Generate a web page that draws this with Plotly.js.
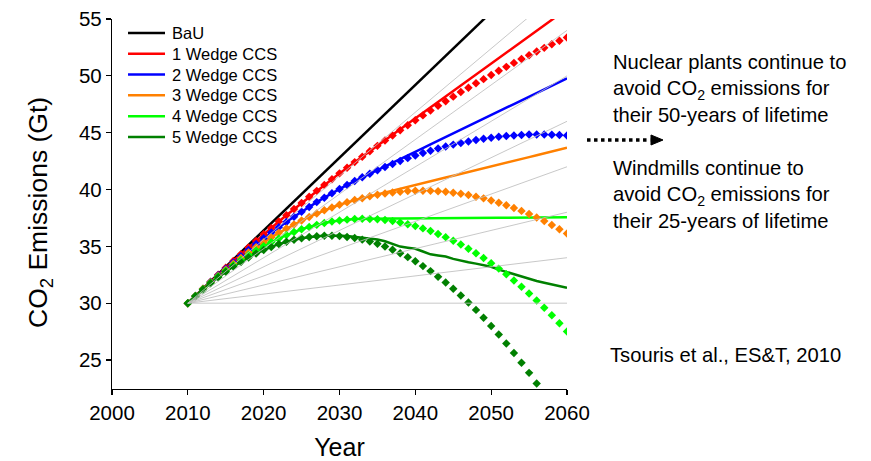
<!DOCTYPE html>
<html>
<head>
<meta charset="utf-8">
<script src="https://cdn.plot.ly/plotly-3.0.1.min.js"></script>
<style>html,body{margin:0;padding:0;background:#fff;}#chart{width:871px;height:461px;}</style>
</head>
<body>
<div id="chart"></div>
<script>
// ---- data ----
const years = [2010,2011,2012,2013,2014,2015,2016,2017,2018,2019,2020,2021,2022,2023,2024,2025,2026,2027,2028,2029,2030,2031,2032,2033,2034,2035,2036,2037,2038,2039,2040,2041,2042,2043,2044,2045,2046,2047,2048,2049,2050,2051,2052,2053,2054,2055,2056,2057,2058,2059,2060];

const bauYears = [2010, 2060];
const bauValues = [30, 62];

// gray reference fan: lines from (2010, 30) to these 2060 values
const refYears = [2010, 2060];
const refStart = 30;
const refEnds = [58, 54, 50, 46, 42, 38, 34, 30];

const legendNames = ["BaU", "1 Wedge CCS", "2 Wedge CCS", "3 Wedge CCS", "4 Wedge CCS", "5 Wedge CCS"];

// solid lines
const solid1 = [30.00,30.64,31.27,31.89,32.50,33.11,33.72,34.31,34.90,35.48,36.06,36.62,37.18,37.74,38.28,38.82,39.36,39.88,40.40,40.91,41.42,41.92,42.41,42.89,43.38,43.86,44.34,44.82,45.30,45.78,46.26,46.75,47.23,47.71,48.19,48.67,49.15,49.63,50.11,50.60,51.08,51.56,52.04,52.52,53.00,53.48,53.97,54.45,54.93,55.41,55.89];
const solid2 = [30.00,30.63,31.25,31.86,32.45,33.03,33.59,34.14,34.68,35.20,35.71,36.21,36.69,37.15,37.61,38.05,38.47,38.89,39.28,39.67,40.04,40.40,40.74,41.07,41.39,41.72,42.04,42.36,42.68,43.01,43.33,43.65,43.97,44.30,44.62,44.94,45.26,45.59,45.91,46.23,46.55,46.88,47.20,47.52,47.84,48.17,48.49,48.81,49.13,49.46,49.78];
const solid3 = [30.00,30.63,31.24,31.83,32.39,32.94,33.47,33.97,34.46,34.92,35.37,35.79,36.19,36.57,36.93,37.27,37.59,37.89,38.17,38.42,38.66,38.88,39.07,39.24,39.41,39.57,39.74,39.90,40.06,40.23,40.39,40.56,40.72,40.88,41.05,41.21,41.38,41.54,41.70,41.87,42.03,42.20,42.36,42.52,42.69,42.85,43.01,43.18,43.34,43.51,43.67];
const solid4 = [30.00,30.63,31.22,31.80,32.34,32.86,33.34,33.80,34.24,34.64,35.02,35.37,35.69,35.99,36.26,36.50,36.71,36.89,37.05,37.18,37.28,37.35,37.40,37.42,37.43,37.43,37.44,37.44,37.45,37.45,37.46,37.46,37.47,37.47,37.48,37.48,37.49,37.49,37.50,37.50,37.51,37.51,37.52,37.52,37.53,37.53,37.54,37.54,37.55,37.55,37.56];
const solid5 = [30.00,30.62,31.21,31.76,32.28,32.77,33.22,33.63,34.02,34.36,34.68,34.95,35.20,35.40,35.58,35.72,35.82,35.89,35.93,35.95,35.94,35.90,35.84,35.76,35.68,35.60,35.45,35.20,34.98,34.88,34.78,34.55,34.30,34.20,34.10,33.90,33.72,33.60,33.48,33.35,33.20,32.95,32.75,32.55,32.30,32.15,31.95,31.80,31.65,31.50,31.35];

// diamond series
const dia1 = [30.00,30.64,31.27,31.89,32.50,33.11,33.72,34.31,34.90,35.48,36.06,36.62,37.18,37.74,38.28,38.82,39.36,39.88,40.40,40.91,41.42,41.92,42.41,42.89,43.37,43.84,44.31,44.76,45.22,45.66,46.10,46.52,46.95,47.36,47.77,48.17,48.57,48.96,49.34,49.71,50.08,50.44,50.79,51.14,51.48,51.81,52.14,52.46,52.77,53.08,53.38];
const dia2 = [30.00,30.63,31.25,31.86,32.45,33.03,33.59,34.14,34.68,35.20,35.71,36.21,36.69,37.15,37.61,38.05,38.47,38.89,39.28,39.67,40.04,40.40,40.74,41.07,41.39,41.69,41.98,42.25,42.51,42.76,42.99,43.21,43.41,43.61,43.78,43.95,44.10,44.23,44.36,44.47,44.56,44.64,44.71,44.76,44.80,44.83,44.84,44.84,44.82,44.79,44.75];
const dia3 = [30.00,30.63,31.24,31.83,32.39,32.94,33.47,33.97,34.46,34.92,35.37,35.79,36.19,36.57,36.93,37.27,37.59,37.89,38.17,38.42,38.66,38.88,39.07,39.24,39.40,39.53,39.64,39.73,39.81,39.86,39.89,39.89,39.88,39.85,39.80,39.72,39.63,39.51,39.37,39.22,39.04,38.84,38.62,38.38,38.12,37.84,37.54,37.22,36.87,36.51,36.13];
const dia4 = [30.00,30.63,31.22,31.80,32.34,32.86,33.34,33.80,34.24,34.64,35.02,35.37,35.69,35.99,36.26,36.50,36.71,36.89,37.05,37.18,37.28,37.35,37.40,37.42,37.41,37.38,37.31,37.22,37.10,36.95,36.78,36.58,36.35,36.09,35.81,35.50,35.16,34.79,34.39,33.97,33.52,33.04,32.54,32.00,31.44,30.86,30.24,29.60,28.93,28.23,27.50];
const dia5 = [30.00,30.62,31.21,31.76,32.28,32.77,33.22,33.63,34.02,34.36,34.68,34.95,35.20,35.40,35.58,35.72,35.82,35.89,35.93,35.93,35.90,35.83,35.73,35.59,35.42,35.22,34.98,34.70,34.40,34.05,33.68,33.26,32.82,32.33,31.82,31.27,30.68,30.06,29.41,28.72,28.00,27.24,26.45,25.62,24.76,23.87,22.94,21.97,20.98,19.94,18.88];

const yTicks = [25, 30, 35, 40, 45, 50, 55];
const xTicks = [2000, 2010, 2020, 2030, 2040, 2050, 2060];

// ---- styling ----
const lineColors = ["#000000", "#ff0000", "#0000ff", "#ff8000", "#00ff00", "#008000"];
const FONT = "Liberation Sans, Arial, Helvetica, sans-serif";
const solids = [solid1, solid2, solid3, solid4, solid5];
const dias = [dia1, dia2, dia3, dia4, dia5];

const traces = [];
traces.push({x: bauYears, y: bauValues, mode: "lines", name: legendNames[0], showlegend: false,
  line: {color: lineColors[0], width: 2.5}});
solids.forEach((s, i) => traces.push({x: years, y: s, mode: "lines", name: legendNames[i + 1], showlegend: false,
  line: {color: lineColors[i + 1], width: 2.5}}));
dias.forEach((s, i) => traces.push({x: years, y: s, mode: "markers", showlegend: false,
  marker: {symbol: "diamond", size: 6.5, color: lineColors[i + 1], line: {width: 0}}}));
refEnds.forEach(v => traces.push({x: refYears, y: [refStart, v], mode: "lines", showlegend: false,
  line: {color: "rgba(190,190,190,0.85)", width: 1}}));

// legend drawn as line samples + labels in paper space (tighter row spacing than Plotly's legend)
const legTop = 0.9622, legStep = 0.0562;
const legShapes = legendNames.map((n, i) => ({type: "line", xref: "paper", yref: "paper",
  x0: 0.0352, x1: 0.1165, y0: legTop - i * legStep, y1: legTop - i * legStep,
  line: {color: lineColors[i], width: 2.5}}));
const legAnn = legendNames.map((n, i) => ({xref: "paper", yref: "paper", x: 0.1275, y: legTop - i * legStep,
  xanchor: "left", yanchor: "middle", showarrow: false, text: n, font: {size: 16.5, family: FONT}}));

const layout = {
  width: 871, height: 461,
  margin: {l: 112, r: 304, t: 19, b: 72},
  paper_bgcolor: "#ffffff", plot_bgcolor: "#ffffff",
  font: {family: FONT, color: "#000000"},
  showlegend: false,
  xaxis: {range: [2000, 2060], tickvals: xTicks, ticktext: xTicks.map(String),
    showgrid: false, zeroline: false, showline: true, linecolor: "#000", linewidth: 1.2,
    ticks: "outside", ticklen: 5, tickcolor: "#000", tickwidth: 1.2,
    tickfont: {size: 20.5, family: FONT},
    title: {text: "Year", font: {size: 25, family: FONT}, standoff: 18}, automargin: false},
  yaxis: {range: [22.45, 55], tickvals: yTicks, ticktext: yTicks.map(String),
    showgrid: false, zeroline: false, showline: true, linecolor: "#000", linewidth: 1.2,
    ticks: "outside", ticklen: 5, tickcolor: "#000", tickwidth: 1.2,
    tickfont: {size: 20.5, family: FONT}, automargin: false},
  annotations: legAnn.concat([
    {xref: "paper", yref: "paper", x: -0.158, y: 0.476, xanchor: "center", yanchor: "middle",
      textangle: -90, showarrow: false, font: {size: 26.5, family: FONT},
      text: "CO<sub>2</sub> Emissions (Gt)"},
    {xref: "paper", yref: "paper", x: 1.097, y: 0.8135, xanchor: "left", yanchor: "middle", align: "left",
      showarrow: false, font: {size: 20.2, family: FONT},
      text: "Nuclear plants continue to<br>avoid CO<sub>2</sub> emissions for<br>their 50-years of lifetime"},
    {xref: "paper", yref: "paper", x: 1.097, y: 0.527, xanchor: "left", yanchor: "middle", align: "left",
      showarrow: false, font: {size: 20.2, family: FONT},
      text: "Windmills continue to<br>avoid CO<sub>2</sub> emissions for<br>their 25-years of lifetime"},
    {xref: "paper", yref: "paper", x: 1.091, y: 0.092, xanchor: "left", yanchor: "middle", align: "left",
      showarrow: false, font: {size: 20.2, family: FONT},
      text: "Tsouris et al., ES&amp;T, 2010"}
  ]),
  shapes: legShapes.concat([
    {type: "line", xref: "paper", yref: "paper", x0: 1.044, x1: 1.183, y0: 0.673, y1: 0.673,
      line: {color: "#000", width: 3.5, dash: "dot"}},
    {type: "path", xref: "paper", yref: "paper",
      path: "M 1.1846 0.6865 L 1.211 0.673 L 1.1846 0.6595 Z",
      fillcolor: "#000", line: {color: "#000", width: 1}}
  ])
};

Plotly.newPlot("chart", traces, layout, {staticPlot: true, displayModeBar: false});
</script>
</body>
</html>
